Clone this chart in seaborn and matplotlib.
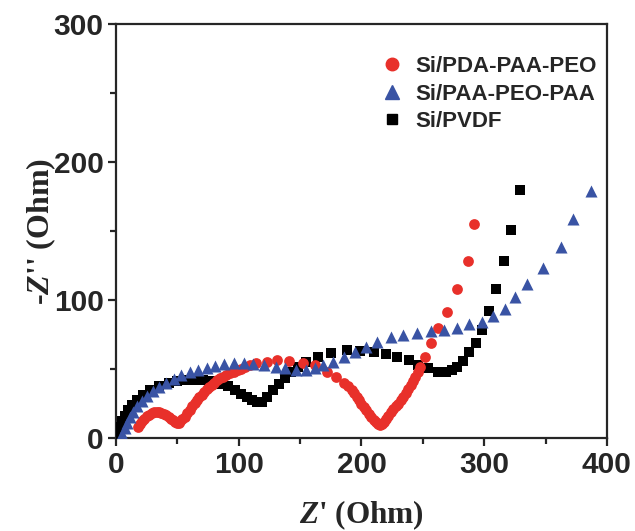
import matplotlib
matplotlib.use("Agg")
import matplotlib.pyplot as plt
import seaborn as sns
import pandas as pd
from matplotlib.ticker import MultipleLocator
from matplotlib.lines import Line2D

# Nyquist data, (Z', -Z'') pairs in Ohm for three electrodes
pda_points = [
    (18, 8), (19.5, 10), (21, 12), (23, 14), (25, 15.8), (27, 17), (29, 18), (31, 18.5),
    (33, 18.7), (35, 18.5), (37, 18), (39, 17.5), (41, 16.5), (43, 15.5), (45, 14),
    (46.5, 13), (48, 11.5), (49.5, 11), (51, 11), (52.5, 12), (54, 13.5), (56, 15.5),
    (58, 18), (60, 20.5), (62, 23), (64, 25.5), (66, 27.5), (68, 29.5), (70, 31.5),
    (72, 33.5), (74, 35.5), (76, 37), (78, 38.5), (80, 40), (82.5, 41.7), (85, 43.2),
    (87.5, 44.5), (90, 45.7), (93, 47), (96, 48.2), (99, 49.3), (102, 50.3), (105.5, 51.5),
    (109, 52.6), (114, 54), (123, 55.3), (131, 56.5), (141, 56), (152, 54.6), (162, 52.9),
    (172, 48), (179, 44.4), (186, 40), (189, 37.5),
    (192, 35), (194, 32.5), (196, 30), (198, 27.5), (200, 25), (202, 22.5), (204, 20),
    (206, 17.5), (208, 15.4), (210, 13.3), (212, 11.3), (213.5, 10), (215, 9.5),
    (216.5, 10), (218, 11.5), (220, 13.5), (222, 16), (224, 18.5), (226, 21), (228, 23),
    (230, 25), (232, 27.5), (234, 30), (236, 32.5), (238, 35.5), (240, 38.5), (242, 41.5),
    (244, 44.5), (246, 48), (248, 51.5), (252, 58.5), (257, 68.6), (262, 80), (270, 91.5),
    (278, 108), (287, 128), (292, 155),
]

paa_points = [
    (4, 0), (5, 3), (7, 7), (9, 11), (11, 15), (14, 19), (17, 23), (21, 27), (25, 30.5),
    (30, 34), (35, 37), (41, 40), (47, 43), (53, 45.5), (60, 47.5), (67, 49.5), (74, 51),
    (81, 52.5), (88, 53.5), (96, 54), (104, 54), (112, 53.8), (121, 53), (130, 51.7),
    (138, 50.5), (147, 49.3), (155, 49), (162, 50.5), (169, 53), (177, 55.3), (186, 59),
    (195, 62.5), (204, 66), (213, 69.8), (224, 73), (234, 74.5), (245, 75.8), (257, 77.3),
    (267, 78.3), (278, 80), (288, 82.4), (298, 84.3), (307, 88.6), (317, 93.5),
    (325, 102.4), (335, 111.4), (348, 123), (363, 138.6), (372, 158.7), (387, 178.8),
]

pvdf_points = [
    (1, 0.5), (2, 4), (3.5, 8), (5, 12), (7, 16), (10, 20), (13, 24), (17, 27.5), (22, 31),
    (28, 34.5), (35, 37.5), (43, 39.6), (50, 41), (57, 42), (64, 42.3), (71, 42), (78, 41),
    (85, 39.5), (91, 37.5), (97, 35), (102, 32), (107, 29.5), (111, 27.5), (115, 26),
    (119, 26.3), (123, 29.5), (128, 34.8), (133, 39), (138, 43.2), (143, 47.5), (148, 51.7),
    (155, 55.3), (165, 58.9), (175, 61.4), (188, 63.5), (199, 63.3), (210, 62.5), (220, 61),
    (229, 59), (239, 56.5), (246, 53), (254, 50.5), (262, 48), (269, 48), (274, 49.5),
    (278, 51.5), (283, 56), (288, 62.5), (293, 68.6), (298, 78.3), (304, 92), (310, 108),
    (316, 128), (322, 151), (329, 180),
]

names = ["Si/PDA-PAA-PEO", "Si/PAA-PEO-PAA", "Si/PVDF"]
series = {names[0]: pda_points, names[1]: paa_points, names[2]: pvdf_points}
colors = {names[0]: "#e8302a", names[1]: "#3953a4", names[2]: "#000000"}
markers = {names[0]: "o", names[1]: "^", names[2]: "s"}
sizes = {names[0]: 60, names[1]: 75, names[2]: 45}

df = pd.concat([
    pd.DataFrame(pts, columns=["zr", "zi"]).assign(sample=n) for n, pts in series.items()
])

sns.set_style("ticks")
plt.rcParams["font.family"] = ["Liberation Sans", "DejaVu Sans"]
plt.rcParams["font.weight"] = "bold"
plt.rcParams["mathtext.fontset"] = "custom"
plt.rcParams["mathtext.it"] = "Liberation Serif:italic:bold"
plt.rcParams["mathtext.rm"] = "Liberation Serif:bold"

fig = plt.figure(figsize=(6.35, 5.31), dpi=100)
ax = fig.add_axes([0.1827, 0.1751, 0.773, 0.7797])

# black first, then red, blue on top
for name in [names[2], names[0], names[1]]:
    sns.scatterplot(data=df[df["sample"] == name], x="zr", y="zi", ax=ax,
                    color=colors[name], marker=markers[name], s=sizes[name],
                    linewidth=0, legend=False, zorder=3)

ax.set_xlim(0, 400)
ax.set_ylim(0, 300)
ax.xaxis.set_major_locator(MultipleLocator(100))
ax.xaxis.set_minor_locator(MultipleLocator(50))
ax.yaxis.set_major_locator(MultipleLocator(100))
ax.yaxis.set_minor_locator(MultipleLocator(50))
ax.tick_params(which="both", direction="out", width=1.6, top=False, right=False)
ax.tick_params(which="major", length=6, labelsize=21.5, pad=3)
ax.tick_params(which="minor", length=4)
for sp in ax.spines.values():
    sp.set_visible(True)
    sp.set_linewidth(1.6)

ax.set_xlabel("$Z$' (Ohm)", fontsize=22.5, fontfamily="Liberation Serif",
              fontweight="bold", labelpad=14)
ax.set_ylabel("-$Z$'' (Ohm)", fontsize=23, fontfamily="Liberation Serif",
              fontweight="bold", labelpad=-3)

handles = [Line2D([], [], linestyle="none", marker=markers[n], color=colors[n],
                  markersize={"o": 9, "^": 10, "s": 7}[markers[n]], label=n)
           for n in names]
ax.legend(handles=handles, loc="upper left", bbox_to_anchor=(0.54, 0.923),
          frameon=False, borderpad=0, borderaxespad=0, handlelength=1.0,
          handletextpad=0.55, labelspacing=0.3,
          prop={"family": "Liberation Sans", "weight": "bold", "size": 16})

fig.savefig("out.png", dpi=100)
